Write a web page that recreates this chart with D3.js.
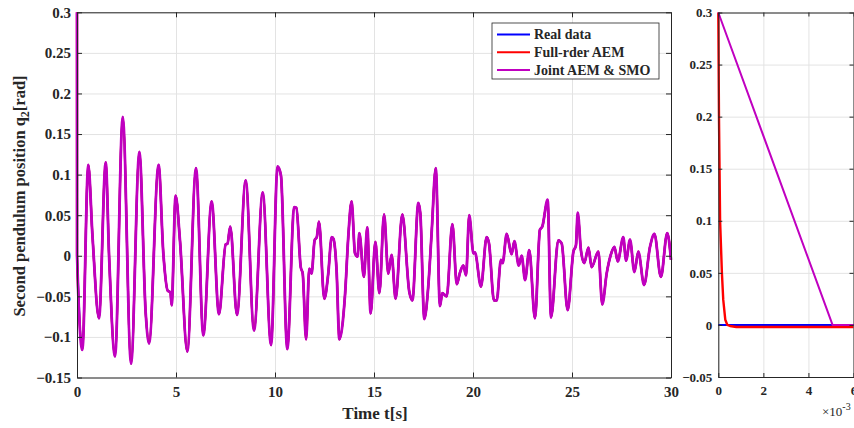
<!DOCTYPE html>
<html>
<head>
<meta charset="utf-8">
<script src="https://cdn.jsdelivr.net/npm/d3@7"></script>
<style>
  body { margin: 0; background: #fff; }
  svg { display: block; }
  text { font-family: "Liberation Serif", "Times New Roman", serif; fill: #262626; }
</style>
</head>
<body>
<div id="chart"></div>
<script>
// measured position signal q2 (rad) vs time (s)
var timeS = [0, 0.27, 0.57, 0.78, 1.11, 1.45, 1.62, 1.92, 2.31, 2.73, 3.15, 3.47, 3.64, 4.12, 4.36, 4.58, 4.72, 4.78, 4.98,
  5.2, 5.57, 6.01, 6.38, 6.8, 7.17, 7.51, 7.6, 7.74, 8.08, 8.52, 8.94, 9.38, 9.8, 10.13, 10.3, 10.62, 10.97, 11.08,
  11.3, 11.4, 11.57, 11.73, 11.85, 12.0, 12.11, 12.22, 12.49, 12.69, 12.86, 12.95, 13.11, 13.25, 13.54, 13.7, 13.87,
  14.04, 14.17, 14.26, 14.49, 14.66, 14.83, 15.07, 15.27, 15.51, 15.72, 15.89, 16.09, 16.43, 16.78, 16.94, 17.24,
  17.34, 17.54, 17.74, 17.91, 18.12, 18.33, 18.45, 18.67, 18.96, 19.18, 19.34, 19.51, 19.65, 19.81, 20.02, 20.1,
  20.4, 20.69, 20.81, 21.06, 21.2, 21.41, 21.5, 21.7, 21.95, 22.09, 22.31, 22.46, 22.63, 22.84, 23.13, 23.38, 23.5,
  23.77, 23.94, 24.31, 24.48, 24.78, 25.07, 25.2, 25.29, 25.45, 25.62, 25.83, 25.99, 26.33, 26.53, 26.75, 26.97,
  27.14, 27.31, 27.59, 27.73, 27.93, 28.15, 28.35, 28.64, 28.94, 29.16, 29.49, 29.81, 30.0];
var realData = [0, -0.116, 0.112, 0.025, -0.077, 0.115, 0.0, -0.124, 0.171, -0.133, 0.128, -0.071, -0.108, 0.112, 0.003, -0.043, -0.045, -0.061, 0.074,
  0.019, -0.118, 0.108, -0.098, 0.067, -0.072, 0.014, 0.015, 0.036, -0.073, 0.093, -0.092, 0.078, -0.11, 0.11, 0.099, -0.115, 0.06, 0.059,
  -0.014, -0.022, -0.103, -0.016, -0.022, 0.019, 0.023, 0.042, -0.053, -0.022, 0.023, 0.021, -0.018, -0.103, -0.047, 0.023, 0.067,
  0.003, -0.001, 0.028, -0.026, 0.035, -0.071, 0.017, -0.046, 0.051, -0.022, 0.001, -0.053, 0.051, -0.044, -0.055, 0.065,
  0.052, -0.078, -0.038, 0.028, 0.108, -0.062, -0.046, -0.05, 0.039, -0.035, -0.021, -0.012, -0.024, 0.05, 0.003, 0.004,
  -0.038, 0.023, 0.015, -0.055, -0.055, -0.005, -0.009, 0.027, 0.002, 0.018, -0.012, 0.0, -0.03, 0.007, -0.077, 0.032, 0.036,
  0.069, -0.076, 0.019, 0.015, -0.067, 0.005, 0.013, 0.053, 0.007, -0.009, 0.01, -0.014, 0.005, -0.06, -0.022, 0.002,
  0.011, -0.007, 0.023, -0.006, 0.02, -0.02, 0.005, -0.036, 0.011, 0.027, -0.026, 0.028, -0.005];

// start-up transients of the two observers (time in s)
var aemT = [0, 0.00003, 0.00006, 0.00008, 0.00016, 0.00022, 0.00031, 0.0004, 0.00052, 0.0008, 0.006];
var aemV = [0.3, 0.2, 0.14, 0.1, 0.05, 0.024, 0.005, 0.0, -0.001, -0.002, -0.002];
var smoT = [0, 0.00507, 0.006];
var smoV = [0.3, 0.0, 0.0];
var zoomRealT = [0, 0.006];
var zoomRealV = [0, 0];

var seriesNames = ["Real data", "Full-rder AEM", "Joint AEM & SMO"];
var seriesColors = ["#0000ff", "#ff0000", "#c000c0"];

var mainXTicks = [0, 5, 10, 15, 20, 25, 30];
var mainYTicks = [-0.15, -0.1, -0.05, 0, 0.05, 0.1, 0.15, 0.2, 0.25, 0.3];
var zoomXTicks = [0, 0.002, 0.004, 0.006];
var zoomYTicks = [-0.05, 0, 0.05, 0.1, 0.15, 0.2, 0.25, 0.3];

function pairs(t, v) { return t.map(function (d, i) { return [d, v[i]]; }); }
function withStart(tt, vv) {
  var head = pairs(tt, vv);
  var last = head[head.length - 1][0];
  return head.concat(pairs(timeS, realData).filter(function (d) { return d[0] > last; }));
}

var realPts = pairs(timeS, realData);
var aemPts = withStart(aemT.slice(0, 8), aemV.slice(0, 8));
var smoPts = withStart(smoT.slice(0, 2), smoV.slice(0, 2));

var W = 854, H = 428;
var svg = d3.select("#chart").append("svg").attr("width", W).attr("height", H);
svg.append("rect").attr("width", W).attr("height", H).attr("fill", "#fff");

function panel(o) {
  var x = d3.scaleLinear().domain(o.xDom).range([o.x0, o.x1]);
  var y = d3.scaleLinear().domain(o.yDom).range([o.y1, o.y0]);
  var g = svg.append("g");
  var w = o.x1 - o.x0, h = o.y1 - o.y0;

  // grid
  g.append("g").attr("transform", "translate(0," + o.y1 + ")")
    .call(d3.axisBottom(x).tickValues(o.xTicks).tickSize(-h).tickFormat(""))
    .call(function (s) { s.select(".domain").remove(); s.selectAll("line").attr("stroke", "#e3e3e3"); });
  g.append("g").attr("transform", "translate(" + o.x0 + ",0)")
    .call(d3.axisLeft(y).tickValues(o.yTicks).tickSize(-w).tickFormat(""))
    .call(function (s) { s.select(".domain").remove(); s.selectAll("line").attr("stroke", "#e3e3e3"); });

  var line = d3.line().x(function (d) { return x(d[0]); }).y(function (d) { return y(d[1]); })
    .curve(o.curve);
  o.series.forEach(function (s, i) {
    g.append("path").datum(s).attr("fill", "none")
      .attr("stroke", seriesColors[i]).attr("stroke-width", o.widths[i])
      .attr("stroke-linejoin", "round").attr("d", line);
  });

  // axes with inward ticks on all sides
  var tl = o.tick;
  function style(s, fs) {
    s.select(".domain").attr("stroke", "#262626");
    s.selectAll(".tick line").attr("stroke", "#262626");
    s.selectAll("text").attr("font-size", fs).attr("font-weight", "bold")
      .attr("font-family", "Liberation Serif, Times New Roman, serif").attr("fill", "#262626");
  }
  g.append("g").attr("transform", "translate(0," + o.y1 + ")")
    .call(d3.axisBottom(x).tickValues(o.xTicks).tickSizeInner(-tl).tickSizeOuter(0).tickPadding(9).tickFormat(o.xFmt))
    .call(function (s) { style(s, o.fs); });
  g.append("g").attr("transform", "translate(0," + o.y0 + ")")
    .call(d3.axisTop(x).tickValues(o.xTicks).tickSizeInner(-tl).tickSizeOuter(0).tickFormat(""))
    .call(function (s) { style(s, o.fs); });
  g.append("g").attr("transform", "translate(" + o.x0 + ",0)")
    .call(d3.axisLeft(y).tickValues(o.yTicks).tickSizeInner(-tl).tickSizeOuter(0).tickPadding(6).tickFormat(d3.format("")))
    .call(function (s) { style(s, o.fs); });
  g.append("g").attr("transform", "translate(" + o.x1 + ",0)")
    .call(d3.axisRight(y).tickValues(o.yTicks).tickSizeInner(-tl).tickSizeOuter(0).tickFormat(""))
    .call(function (s) { style(s, o.fs); });
  return { x: x, y: y };
}

panel({
  x0: 77, x1: 671, y0: 12.3, y1: 377.5,
  xDom: [0, 30], yDom: [-0.15, 0.3], xTicks: mainXTicks, yTicks: mainYTicks,
  xFmt: d3.format(""), fs: 15, tick: 5, curve: d3.curveMonotoneX,
  series: [realPts, aemPts, smoPts], widths: [2, 2.2, 2.8]
});

panel({
  x0: 718.3, x1: 853.5, y0: 12.5, y1: 377,
  xDom: [0, 0.006], yDom: [-0.05, 0.3], xTicks: zoomXTicks, yTicks: zoomYTicks,
  xFmt: function (d) { return Math.round(d * 1000); }, fs: 13, tick: 4, curve: d3.curveLinear,
  series: [pairs(zoomRealT, zoomRealV), pairs(aemT, aemV), pairs(smoT, smoV)], widths: [2, 2.4, 2]
});

// axis labels
svg.append("text").attr("x", 375).attr("y", 419).attr("text-anchor", "middle")
  .attr("font-size", 17).attr("font-weight", "bold").text("Time t[s]");

var yl = svg.append("text").attr("transform", "translate(25,196) rotate(-90)")
  .attr("text-anchor", "middle").attr("font-size", 16.5).attr("font-weight", "bold");
yl.append("tspan").text("Second pendulum position q");
yl.append("tspan").attr("dy", 4).attr("font-size", 12).text("2");
yl.append("tspan").attr("dy", -4).text("[rad]");

var ex = svg.append("text").attr("x", 822).attr("y", 416).attr("font-size", 13);
ex.append("tspan").text("\u00d710");
ex.append("tspan").attr("dy", -6).attr("font-size", 10).text("-3");

// legend
var lg = svg.append("g");
lg.append("rect").attr("x", 492).attr("y", 23).attr("width", 167).attr("height", 56)
  .attr("fill", "#fff").attr("stroke", "#262626").attr("stroke-width", 0.8);
seriesNames.forEach(function (name, i) {
  var yy = 34.5 + i * 17.8;
  lg.append("line").attr("x1", 497).attr("x2", 530).attr("y1", yy).attr("y2", yy)
    .attr("stroke", seriesColors[i]).attr("stroke-width", 2);
  lg.append("text").attr("x", 534).attr("y", yy).attr("dy", "0.35em")
    .attr("font-size", 14).attr("font-weight", "bold").text(name);
});
</script>
</body>
</html>
